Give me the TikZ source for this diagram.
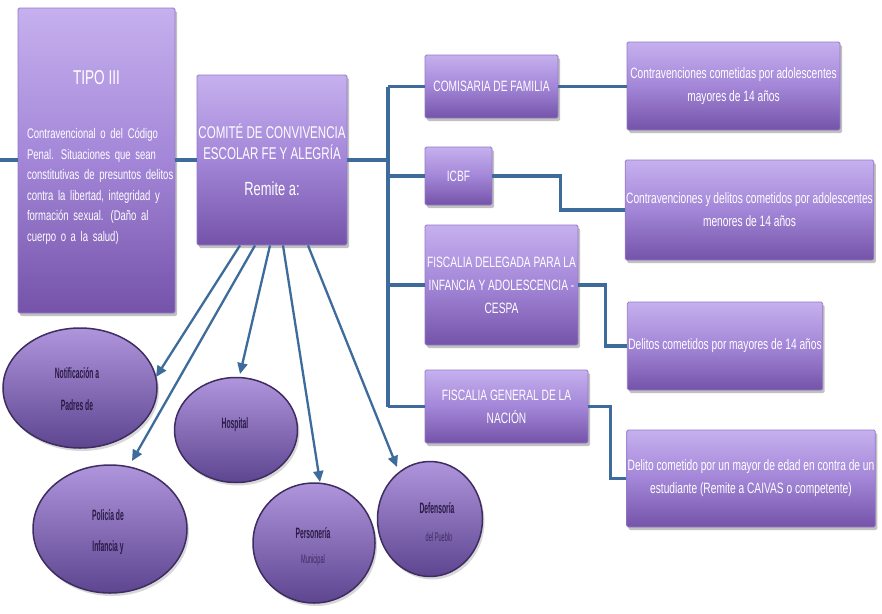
\documentclass[tikz,border=0pt]{standalone}
\usepackage{fontspec}
\setmainfont{Liberation Sans}
\newfontfamily\narrowfont{Liberation Sans}[FakeStretch=0.68]
\newfontfamily\ellfont{Liberation Sans}[FakeStretch=0.45]
\usetikzlibrary{shapes.geometric,shadows,arrows.meta}
\definecolor{conn}{HTML}{3D6C9C}
\definecolor{boxtop}{HTML}{C6B0EE}
\definecolor{boxmid}{HTML}{A386D8}
\definecolor{boxbot}{HTML}{7453A8}
\definecolor{boxedge}{HTML}{9479C8}
\definecolor{elltop}{HTML}{AE95DC}
\definecolor{ellbot}{HTML}{5E4590}
\definecolor{elledge}{HTML}{3E2D60}
\definecolor{elltext}{HTML}{2A1A45}
\definecolor{ellfaint}{HTML}{3E2C62}
\begin{document}
\begin{tikzpicture}[x=1pt,y=-1pt,
  box/.style={rectangle, rounded corners=1.5pt, draw=boxedge, line width=0.8pt,
    top color=boxtop, bottom color=boxbot, middle color=boxmid,
    text=white, align=center, inner sep=1pt,
    font=\narrowfont\fontsize{15}{23}\selectfont,
    drop shadow={opacity=0.4, shadow xshift=2pt, shadow yshift=-3pt, fill=black!60}},
  ell/.style={ellipse, draw=elledge, line width=1.5pt,
    top color=elltop, bottom color=ellbot, inner sep=0pt,
    drop shadow={opacity=0.25, shadow xshift=2pt, shadow yshift=-3pt, fill=black!60}},
  boxtext/.style={text=white, inner sep=0pt, font=\narrowfont\fontsize{14}{20.6}\selectfont},
  elltxt/.style={text=elltext, inner sep=0pt, font=\ellfont\bfseries\fontsize{15}{17}\selectfont},
  ellsub/.style={text=ellfaint, inner sep=0pt, font=\ellfont\fontsize{12.5}{14}\selectfont},
  connline/.style={draw=conn, line width=3.5pt},
  arr/.style={draw=conn, line width=2.3pt, -{Triangle[length=11pt,width=10pt]}}
]
\useasboundingbox (0,0) rectangle (882,613);
\fill[white] (0,0) rectangle (882,613);

% main boxes
\node[box, minimum width=157pt, minimum height=305pt] (tipo) at (96.5,160.5) {};
\node[boxtext, font=\narrowfont\fontsize{20}{22}\selectfont] (tipoh) at (96.5,78) {TIPO III};
\node[boxtext, text width=148pt, anchor=north] (tipob) at (101,128)
  {\makebox[148pt][s]{Contravencional o del Código}\par
   \makebox[148pt][s]{Penal. Situaciones que sean}\par
   \makebox[148pt][s]{constitutivas de presuntos delitos}\par
   \makebox[148pt][s]{contra la libertad, integridad y}\par
   \makebox[148pt][s]{formación sexual. (Daño al}\par
   cuerpo o a la salud)\par};

\node[box, minimum width=150pt, minimum height=170pt] (comite) at (272,160) {};
\node[boxtext, align=center, font=\narrowfont\fontsize{17}{21}\selectfont] (comiteh) at (272,142)
  {COMITÉ DE CONVIVENCIA\\ESCOLAR FE Y ALEGRÍA};
\node[boxtext, font=\narrowfont\fontsize{19}{21}\selectfont] (remite) at (272,189) {Remite a:};

% second column
\node[box, minimum width=133pt, minimum height=63pt] (comisaria) at (491.5,86.5) {COMISARIA DE FAMILIA};
\node[box, minimum width=67pt, minimum height=58pt] (icbf) at (458.5,176) {ICBF};
\node[box, minimum width=153pt, minimum height=120pt] (fdel) at (501.5,285)
  {FISCALIA DELEGADA PARA LA\\INFANCIA Y ADOLESCENCIA -\\CESPA};
\node[box, minimum width=163pt, minimum height=73pt] (fgen) at (506.5,406.5)
  {FISCALIA GENERAL DE LA\\NACIÓN};

% third column
\node[box, minimum width=213pt, minimum height=88pt] (r1) at (733.5,86)
  {Contravenciones cometidas por adolescentes\\mayores de 14 años};
\node[box, minimum width=245pt, minimum height=100pt] (r2) at (749.5,210)
  {Contravenciones y delitos cometidos por adolescentes\\menores de 14 años};
\node[box, minimum width=190pt, minimum height=88pt] (r3) at (725,346)
  {Delitos cometidos por mayores de 14 años};
\node[box, minimum width=248pt, minimum height=97pt] (r4) at (751,478.5)
  {Delito cometido por un mayor de edad en contra de un\\estudiante (Remite a CAIVAS o competente)};

% ellipses
\node[ell, minimum width=154pt, minimum height=120pt] (notif) at (80,388) {};
\node[elltxt] (notif1) at (77,373) {Notificación a};
\node[elltxt] (notif2) at (77,405) {Padres de};
\node[ell, minimum width=123pt, minimum height=105pt] (hosp) at (236,430) {};
\node[elltxt] (hosp1) at (235,425) {Hospital};
\node[ell, minimum width=154pt, minimum height=128pt] (poli) at (110,529) {};
\node[elltxt] (poli1) at (108,515) {Policía de};
\node[elltxt] (poli2) at (108,548) {Infancia y};
\node[ell, minimum width=122pt, minimum height=120pt] (pers) at (314,543) {};
\node[elltxt] (pers1) at (313,533) {Personería};
\node[ellsub] (pers2) at (313,560) {Municipal};
\node[ell, minimum width=105pt, minimum height=115pt] (def) at (430,519) {};
\node[elltxt] (def1) at (437,508) {Defensoría};
\node[ellsub] (def2) at (439,537) {del Pueblo};

% connectors
\coordinate (in) at (0,160);
\draw[connline] (in) -- (in -| tipo.west);
\draw[connline] (tipo.east |- comite.west) -- (comite.west);
\coordinate (t0) at (388,160);
\draw[connline] (comite.east) -- (t0);
\draw[connline] (comisaria.west -| t0) -- (fgen.west -| t0);
\draw[connline] (comisaria.west -| t0) -- (comisaria.west);
\draw[connline] (icbf.west -| t0) -- (icbf.west);
\draw[connline] (fdel.west -| t0) -- (fdel.west);
\draw[connline] (fgen.west -| t0) -- (fgen.west);
\draw[connline] (comisaria.east) -- (r1.west |- comisaria.east);
\draw[connline] (icbf.east) -- ++(68,0) |- (r2.west);
\draw[connline] (fdel.east) -- ++(27,0) |- (r3.west);
\draw[connline] (fgen.east) -- ++(22,0) |- (r4.west);

% arrows
\coordinate (s1) at ([xshift=-32pt]comite.south);
\coordinate (s2) at ([xshift=-17pt]comite.south);
\coordinate (s3) at ([xshift=-2pt]comite.south);
\coordinate (s4) at ([xshift=11pt]comite.south);
\coordinate (s5) at ([xshift=36pt]comite.south);
\coordinate (e1) at (156,377);
\coordinate (e2) at (132,461);
\coordinate (e3) at (240,374);
\coordinate (e4) at (320,482);
\coordinate (e5) at (397,467);
\draw[arr] (s1) -- (e1);
\draw[arr] (s2) -- (e2);
\draw[arr] (s3) -- (e3);
\draw[arr] (s4) -- (e4);
\draw[arr] (s5) -- (e5);
\end{tikzpicture}
\end{document}
